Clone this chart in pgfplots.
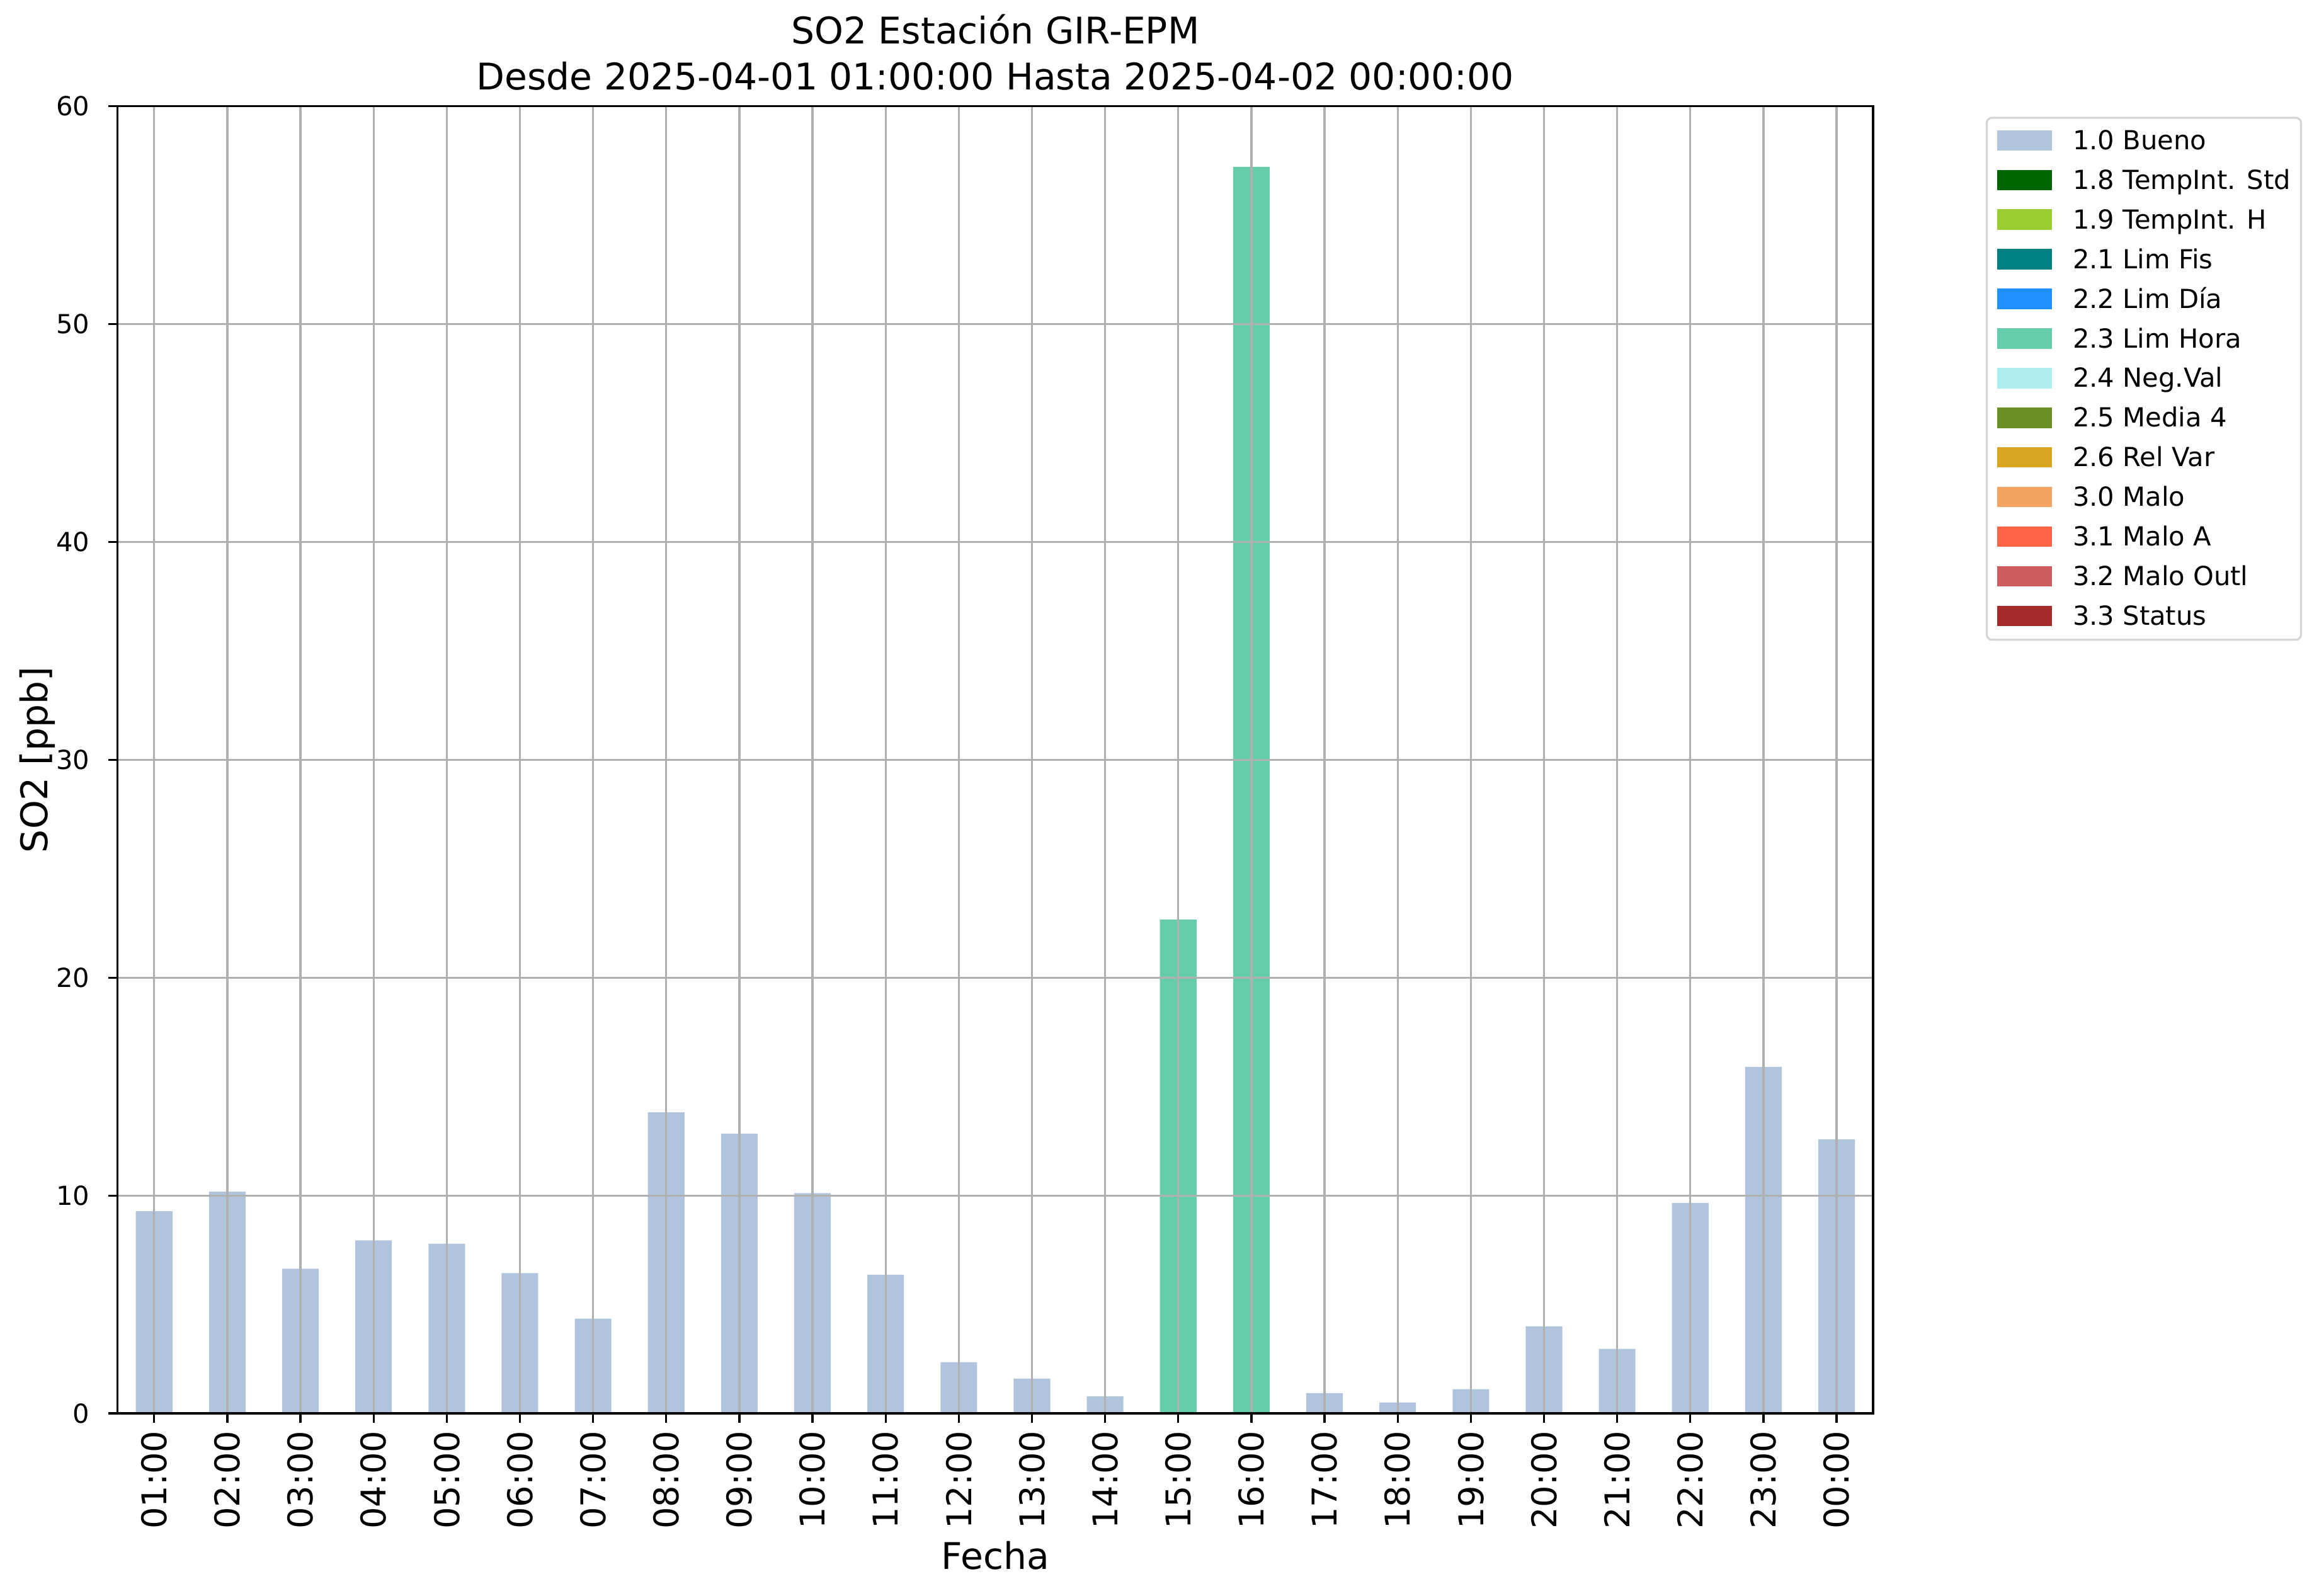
\documentclass[border=0pt]{standalone}
\usepackage{fontspec}
\setmainfont{DejaVu Sans}
\usepackage{pgfplots}
\pgfplotsset{compat=1.18}
\definecolor{cBueno}{HTML}{B0C4DE}
\definecolor{cStd}{HTML}{006400}
\definecolor{cH}{HTML}{9ACD32}
\definecolor{cFis}{HTML}{008080}
\definecolor{cDia}{HTML}{1E90FF}
\definecolor{cHora}{HTML}{66CDAA}
\definecolor{cNeg}{HTML}{AFEEEE}
\definecolor{cMedia}{HTML}{6B8E23}
\definecolor{cRel}{HTML}{DAA520}
\definecolor{cMalo}{HTML}{F4A460}
\definecolor{cMaloA}{HTML}{FF6347}
\definecolor{cOutl}{HTML}{CD5C5C}
\definecolor{cStatus}{HTML}{A52A2A}
\definecolor{gridgray}{HTML}{B0B0B0}
\definecolor{legedge}{HTML}{D5D5D5}
\newcommand{\lpatch}[1]{\addlegendimage{legend image code/.code={\fill[#1, sharp corners] (0pt,-3.25pt) rectangle (20pt,3.75pt);}}}
\begin{document}
\begin{tikzpicture}
\useasboundingbox (-44.8pt,-69.5pt) rectangle (838.9pt,538.6pt);
\begin{axis}[
  at={(0,0)}, anchor=south west,
  scale only axis, width=669pt, height=498.1pt,
  xmin=-0.5, xmax=23.5, ymin=0, ymax=60,
  xtick={0,...,23},
  xticklabels={01:00,02:00,03:00,04:00,05:00,06:00,07:00,08:00,09:00,10:00,11:00,12:00,13:00,14:00,15:00,16:00,17:00,18:00,19:00,20:00,21:00,22:00,23:00,00:00},
  ytick={0,10,...,60},
  grid=major,
  major grid style={color=gridgray, line width=0.8pt},
  axis line style={line width=0.8pt, black},
  tick align=outside, xtick pos=left, ytick pos=left,
  major tick length=3.5pt,
  tick style={black, line width=0.8pt},
  axis on top,
  /pgf/number format/assume math mode=true,
  xticklabel style={rotate=90, anchor=east, inner sep=0pt, font=\fontsize{13}{15}\selectfont},
  xticklabel shift=2.9pt,
  yticklabel style={anchor=east, inner sep=0pt, font=\fontsize{10}{12}\selectfont},
  yticklabel shift=7pt,
  xlabel={Fecha}, ylabel={SO2 [ppb]},
  xlabel style={at={(axis description cs:0.5,-0.1088)}, anchor=center, inner sep=0pt, font=\fontsize{14}{17}\selectfont},
  ylabel style={at={(axis description cs:-0.0455,0.5)}, anchor=center, inner sep=0pt, font=\fontsize{14}{17}\selectfont},
  title={SO2 Estación GIR-EPM\\Desde 2025-04-01 01:00:00 Hasta 2025-04-02 00:00:00},
  title style={at={(axis description cs:0.5,1)}, anchor=south, yshift=0pt, align=center, inner sep=0pt, font=\fontsize{14}{17.4}\selectfont},
  legend cell align=left,
  legend style={at={(axis description cs:1.0641,0.992)}, anchor=north west,
    draw=legedge, line width=0.8pt, rounded corners=2pt, fill=white,
    inner xsep=4pt, inner ysep=3pt, row sep=3.4pt, column sep=8pt,
    font=\fontsize{10}{12}\selectfont,
    nodes={inner sep=0pt, text height=9.1pt, text depth=2.6pt}},
]
\lpatch{cBueno}\addlegendentry{1.0 Bueno}
\lpatch{cStd}\addlegendentry{1.8 TempInt. Std}
\lpatch{cH}\addlegendentry{1.9 TempInt. H}
\lpatch{cFis}\addlegendentry{2.1 Lim Fis}
\lpatch{cDia}\addlegendentry{2.2 Lim Día}
\lpatch{cHora}\addlegendentry{2.3 Lim Hora}
\lpatch{cNeg}\addlegendentry{2.4 Neg.Val}
\lpatch{cMedia}\addlegendentry{2.5 Media 4}
\lpatch{cRel}\addlegendentry{2.6 Rel Var}
\lpatch{cMalo}\addlegendentry{3.0 Malo}
\lpatch{cMaloA}\addlegendentry{3.1 Malo A}
\lpatch{cOutl}\addlegendentry{3.2 Malo Outl}
\lpatch{cStatus}\addlegendentry{3.3 Status}
\addplot[ybar, bar width=0.5, bar shift=0pt, fill=cBueno, draw=none, forget plot] coordinates {
(0,9.28) (1,10.18) (2,6.64) (3,7.94) (4,7.79) (5,6.44) (6,4.35) (7,13.82) (8,12.84) (9,10.11) (10,6.37) (11,2.35) (12,1.60) (13,0.79)
(16,0.93) (17,0.50) (18,1.11) (19,4.00) (20,2.96) (21,9.66) (22,15.91) (23,12.58)};
\addplot[ybar, bar width=0.5, bar shift=0pt, fill=cHora, draw=none, forget plot] coordinates {
(14,22.67) (15,57.22)};
\end{axis}
\end{tikzpicture}
\end{document}
